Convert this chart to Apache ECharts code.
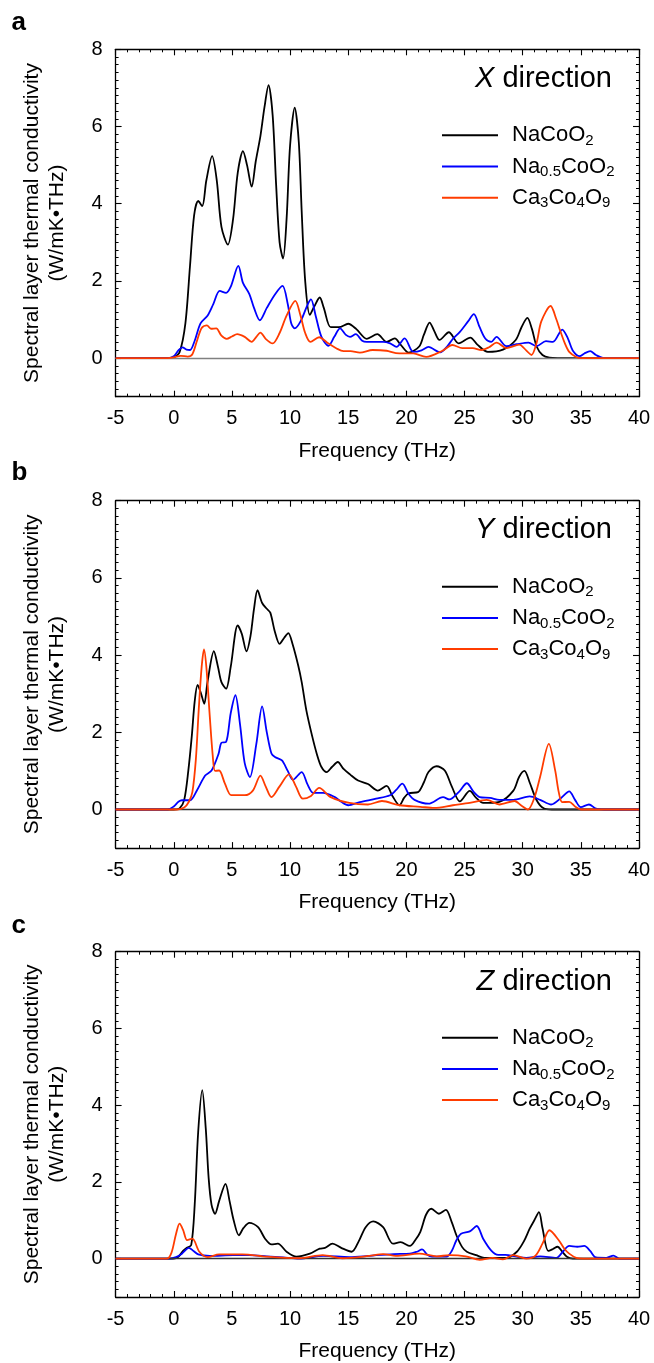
<!DOCTYPE html>
<html>
<head>
<meta charset="utf-8">
<script src="https://cdn.jsdelivr.net/npm/echarts@6/dist/echarts.min.js"></script>
<style>
html,body{margin:0;padding:0;background:#fff;}
#chart{width:654px;height:1363px;}
</style>
</head>
<body>
<div id="chart"></div>
<script>
// ---------- data (frequency THz, spectral conductivity W/mK·THz) ----------
const seriesNames = ['NaCoO2', 'Na0.5CoO2', 'Ca3Co4O9'];
const panelLetters = ['a', 'b', 'c'];
const directions = ['X', 'Y', 'Z'];
const xTicks = { min: -5, max: 40, step: 5 };
const yRange = { min: -1, max: 8 };

const naCoO2_X = [[-5,0],[-0.5,0],[0,0.02],[0.5,0.15],[1.0,0.9],[1.4,2.4],[1.75,3.7],[2.1,4.07],[2.45,3.94],[2.8,4.6],[3.3,5.23],[3.7,4.6],[4.1,3.4],[4.65,2.94],[5.1,3.6],[5.5,4.8],[5.95,5.36],[6.3,5.0],[6.7,4.44],[7.05,5.1],[7.45,5.75],[7.8,6.5],[8.15,7.07],[8.5,6.3],[8.8,4.5],[9.1,3.0],[9.4,2.58],[9.7,3.6],[10.0,5.5],[10.4,6.49],[10.75,5.6],[11.0,3.8],[11.3,2.0],[11.7,1.12],[12.1,1.35],[12.55,1.57],[12.9,1.3],[13.5,0.8],[14.2,0.8],[15.0,0.89],[15.7,0.75],[16.6,0.5],[17.5,0.62],[18.3,0.42],[19.0,0.51],[19.5,0.35],[20.2,0.14],[21.1,0.3],[21.5,0.6],[22.0,0.92],[22.4,0.7],[22.85,0.47],[23.65,0.67],[24.5,0.38],[25.5,0.53],[26.1,0.35],[27.0,0.16],[28.3,0.22],[29.4,0.47],[29.9,0.8],[30.4,1.04],[30.8,0.75],[31.2,0.3],[31.7,0.08],[32.3,0.01],[33,0],[40,0]];
const na05CoO2_X = [[-5,0],[-0.5,0],[0,0.05],[0.4,0.2],[0.75,0.28],[1.1,0.22],[1.4,0.21],[1.8,0.45],[2.3,0.9],[2.9,1.1],[3.4,1.4],[3.95,1.74],[4.5,1.69],[4.9,1.85],[5.55,2.39],[5.95,1.95],[6.5,1.66],[6.9,1.3],[7.4,0.98],[8.0,1.3],[8.7,1.65],[9.35,1.87],[9.8,1.4],[10.1,0.9],[10.4,0.77],[10.9,0.95],[11.5,1.38],[11.8,1.52],[12.2,1.1],[12.7,0.55],[13.3,0.32],[13.8,0.55],[14.3,0.77],[14.8,0.6],[15.15,0.55],[15.65,0.62],[16.2,0.45],[16.6,0.42],[18.0,0.42],[18.6,0.38],[19.15,0.29],[19.85,0.51],[20.6,0.16],[21.3,0.2],[21.9,0.29],[22.9,0.15],[23.5,0.3],[24.0,0.5],[24.6,0.68],[25.3,0.95],[25.8,1.14],[26.3,0.8],[26.8,0.5],[27.3,0.42],[27.75,0.55],[28.6,0.31],[29.5,0.36],[30.5,0.4],[31.2,0.31],[32.0,0.44],[32.6,0.42],[33.4,0.74],[33.9,0.5],[34.3,0.2],[34.9,0.05],[35.3,0.12],[35.8,0.18],[36.3,0.08],[37,0],[40,0]];
const ca3Co4O9_X = [[-5,0],[-0.5,0],[0,0.02],[0.6,0.06],[1.2,0.04],[1.6,0.1],[2.0,0.45],[2.4,0.78],[2.85,0.85],[3.2,0.76],[3.65,0.77],[4.1,0.58],[4.55,0.5],[5.0,0.56],[5.45,0.62],[6.1,0.55],[6.7,0.42],[7.1,0.55],[7.45,0.66],[7.9,0.5],[8.5,0.38],[9.1,0.65],[9.7,1.1],[10.45,1.48],[10.9,1.1],[11.3,0.65],[11.75,0.42],[12.5,0.54],[13.2,0.4],[14.0,0.25],[14.6,0.18],[15.2,0.18],[16.0,0.14],[17.1,0.21],[18.3,0.19],[19.1,0.13],[20.6,0.12],[21.7,0.03],[23.1,0.19],[23.95,0.34],[24.8,0.26],[25.7,0.26],[26.45,0.21],[27.1,0.28],[27.75,0.4],[28.6,0.26],[29.7,0.35],[30.3,0.2],[30.75,0.08],[31.2,0.4],[31.6,0.95],[32.4,1.35],[32.9,1.0],[33.2,0.73],[33.6,0.4],[34.0,0.16],[34.6,0.03],[35,0],[40,0]];

const naCoO2_Y = [[-5,0],[0,0],[0.5,0.03],[0.9,0.25],[1.25,1.0],[1.55,1.9],[1.8,2.8],[2.05,3.23],[2.35,3.0],[2.62,2.74],[2.9,3.3],[3.45,4.1],[3.8,3.7],[4.1,3.3],[4.5,3.13],[4.9,3.7],[5.5,4.77],[5.85,4.55],[6.25,4.1],[6.6,4.5],[6.9,5.2],[7.2,5.68],[7.6,5.35],[8.0,5.2],[8.3,5.1],[8.7,4.6],[9.1,4.29],[9.5,4.45],[9.85,4.57],[10.2,4.3],[10.7,3.73],[11.0,3.3],[11.4,2.57],[11.9,1.9],[12.3,1.44],[12.7,1.1],[13.15,0.97],[13.6,1.1],[14.1,1.23],[14.6,1.05],[15.15,0.91],[15.85,0.75],[16.7,0.66],[17.55,0.49],[18.3,0.61],[18.8,0.35],[19.4,0.11],[19.8,0.3],[20.2,0.42],[21.0,0.45],[21.5,0.7],[21.9,0.97],[22.6,1.12],[23.3,1.01],[23.9,0.6],[24.6,0.21],[25.45,0.48],[26.0,0.3],[26.6,0.17],[28.0,0.2],[29.2,0.49],[29.7,0.85],[30.15,1.0],[30.6,0.7],[31.2,0.24],[31.8,0.03],[32.5,0],[40,0]];
const na05CoO2_Y = [[-5,0],[-0.5,0],[0,0.08],[0.4,0.2],[0.7,0.24],[1.4,0.24],[2.0,0.5],[2.7,0.88],[3.25,1.01],[3.85,1.44],[4.1,1.73],[4.5,1.75],[4.9,2.5],[5.3,2.96],[5.7,2.2],[6.1,1.2],[6.55,0.84],[7.1,1.7],[7.6,2.67],[8.0,2.0],[8.4,1.45],[8.7,1.36],[9.3,1.27],[9.8,1.0],[10.25,0.77],[11.0,0.97],[11.5,0.65],[12.0,0.43],[12.85,0.43],[13.85,0.32],[14.4,0.2],[15.0,0.11],[16.0,0.19],[17.4,0.28],[18.6,0.37],[19.1,0.5],[19.65,0.67],[20.2,0.4],[20.7,0.25],[21.9,0.15],[23.15,0.32],[23.7,0.26],[24.5,0.45],[25.2,0.68],[25.8,0.45],[26.3,0.32],[27.2,0.3],[28.0,0.25],[29.2,0.25],[30.6,0.34],[31.5,0.25],[32.45,0.13],[33.3,0.3],[34.0,0.47],[34.5,0.25],[35.0,0.06],[35.7,0.13],[36.3,0.02],[37,0],[40,0]];
const ca3Co4O9_Y = [[-5,0],[0.3,0],[0.9,0.05],[1.3,0.2],[1.6,0.45],[1.9,1.3],[2.15,2.6],[2.4,3.7],[2.6,4.15],[2.8,3.7],[3.1,2.4],[3.35,1.4],[3.55,1.0],[3.9,1.01],[4.4,0.67],[4.95,0.37],[6.1,0.37],[6.8,0.49],[7.45,0.88],[7.9,0.6],[8.4,0.32],[9.1,0.6],[9.9,0.91],[10.5,0.6],[11.1,0.28],[11.8,0.35],[12.5,0.56],[13.5,0.32],[15.1,0.17],[16.7,0.13],[17.9,0.22],[19.4,0.11],[21.2,0.07],[22.4,0.04],[24.0,0.11],[25.45,0.17],[26.9,0.25],[28.0,0.13],[29.3,0.22],[29.9,0.1],[30.45,0.0],[31.0,0.3],[31.5,0.85],[32.25,1.7],[32.8,1.0],[33.1,0.45],[33.4,0.19],[34.0,0.2],[34.5,0.08],[35,0],[40,0]];

const naCoO2_Z = [[-5,0],[0,0],[0.4,0.05],[0.8,0.2],[1.1,0.28],[1.5,0.35],[1.8,1.4],[2.1,3.3],[2.45,4.39],[2.75,3.4],[3.0,2.1],[3.25,1.4],[3.55,1.17],[3.9,1.5],[4.45,1.95],[4.8,1.5],[5.15,1.0],[5.6,0.61],[6.0,0.8],[6.5,0.93],[7.25,0.82],[7.85,0.52],[8.4,0.37],[8.95,0.39],[9.7,0.18],[10.55,0.05],[11.7,0.13],[12.55,0.26],[13.0,0.28],[13.65,0.39],[14.4,0.28],[15.3,0.18],[15.9,0.45],[16.5,0.82],[17.15,0.97],[18.0,0.82],[18.85,0.39],[19.5,0.43],[20.3,0.33],[20.8,0.5],[21.2,0.7],[21.7,1.15],[22.15,1.3],[22.8,1.17],[23.4,1.27],[23.9,0.95],[24.3,0.61],[24.8,0.3],[25.2,0.18],[26.0,0.09],[26.7,0.02],[28.6,0.02],[29.5,0.18],[30.1,0.45],[30.6,0.78],[31.0,1.0],[31.4,1.21],[31.7,0.8],[32.2,0.2],[32.6,0.25],[33.0,0.31],[33.4,0.18],[33.8,0.05],[34.3,0],[40,0]];
const na05CoO2_Z = [[-5,0],[-0.4,0],[0.2,0.04],[0.7,0.13],[1.3,0.28],[1.7,0.2],[2.1,0.11],[3.1,0.07],[5.1,0.09],[6.5,0.09],[8.0,0.06],[9.4,0.03],[10.8,0.0],[12.85,0.07],[15.1,0.04],[16.7,0.07],[17.4,0.09],[18.9,0.12],[20.3,0.13],[20.9,0.18],[21.35,0.24],[21.8,0.1],[22.2,0.05],[23.45,0.05],[23.9,0.2],[24.3,0.48],[24.7,0.65],[25.45,0.71],[26.05,0.85],[26.6,0.52],[27.3,0.21],[27.9,0.1],[28.5,0.1],[29.5,0.05],[30.3,0.02],[31.5,0.06],[32.9,0.02],[33.45,0.18],[34.0,0.33],[34.7,0.31],[35.3,0.33],[35.8,0.2],[36.3,0.03],[37.2,0.02],[37.8,0.08],[38.3,0],[40,0]];
const ca3Co4O9_Z = [[-5,0],[-0.6,0],[-0.2,0.15],[0.2,0.65],[0.5,0.91],[0.8,0.75],[1.15,0.48],[1.6,0.52],[2.2,0.18],[2.9,0.04],[3.9,0.11],[5.9,0.11],[8.0,0.05],[10.8,0.01],[12.8,0.09],[14.5,0.01],[16.8,0.07],[18.0,0.12],[19.1,0.07],[21.1,0.13],[22.6,0.06],[23.7,0.09],[25.1,0.06],[26.3,-0.03],[27.4,0.02],[28.3,-0.02],[29.2,0.09],[30.3,0.0],[31.1,0.08],[31.7,0.39],[32.3,0.74],[33.1,0.48],[33.6,0.25],[34.0,0.13],[34.6,0.02],[35.2,0],[40,0]];

const panelData = [
  [naCoO2_X, na05CoO2_X, ca3Co4O9_X],
  [naCoO2_Y, na05CoO2_Y, ca3Co4O9_Y],
  [naCoO2_Z, na05CoO2_Z, ca3Co4O9_Z]
];

// ---------- styling / layout ----------
const FONT = '"Liberation Sans", Arial, Helvetica, sans-serif';
const colors = ['#000000', '#0000ff', '#ff3c00'];
const richName = {
  'NaCoO2': '{g|}{n|NaCoO}{s|2}',
  'Na0.5CoO2': '{g|}{n|Na}{s|0.5}{n|CoO}{s|2}',
  'Ca3Co4O9': '{g|}{n|Ca}{s|3}{n|Co}{s|4}{n|O}{s|9}'
};
const gridTops = [49.3, 500.7, 951.7];
const gridLeft = 115.6, gridWidth = 523.4, gridHeight = 347.4;
const letterTops = [5, 454.5, 908];
const dirTops = [59.5, 510.5, 962];

const chart = echarts.init(document.getElementById('chart'), null, { renderer: 'canvas' });

const grid = [], xAxis = [], yAxis = [], series = [], legend = [], title = [];
const axisLine = { show: true, onZero: false, lineStyle: { color: '#000', width: 1.3 } };
const majorTick = { inside: true, length: 6, lineStyle: { color: '#000', width: 1.1 } };

gridTops.forEach((top, p) => {
  grid.push({ left: gridLeft, top: top, width: gridWidth, height: gridHeight, containLabel: false });
});
['bottom', 'top'].forEach((pos) => {
  gridTops.forEach((top, p) => {
    const ax = {
      type: 'value', gridIndex: p, position: pos,
      min: xTicks.min, max: xTicks.max, interval: xTicks.step,
      axisLine: axisLine, axisTick: majorTick,
      minorTick: { show: true, splitNumber: 5, length: 3, lineStyle: { color: '#000', width: 1 } },
      splitLine: { show: false }, minorSplitLine: { show: false },
      axisLabel: { show: false }
    };
    if (pos === 'bottom') {
      ax.axisLabel = { show: true, color: '#000', fontSize: 20, fontFamily: FONT, margin: 12 };
      ax.name = 'Frequency (THz)';
      ax.nameLocation = 'middle';
      ax.nameGap = 44;
      ax.nameTextStyle = { color: '#000', fontSize: 21, fontFamily: FONT };
    }
    xAxis.push(ax);
  });
});
['left', 'right'].forEach((pos) => {
  gridTops.forEach((top, p) => {
    const ax = {
      type: 'value', gridIndex: p, position: pos,
      min: yRange.min, max: yRange.max, splitNumber: 5,
      axisLine: axisLine, axisTick: majorTick,
      minorTick: { show: true, splitNumber: 10, length: 3, lineStyle: { color: '#000', width: 1 } },
      splitLine: { show: false }, minorSplitLine: { show: false },
      axisLabel: { show: false }
    };
    if (pos === 'left') {
      ax.axisLabel = { show: true, color: '#000', fontSize: 20, fontFamily: FONT, margin: 13, showMinLabel: false };
      ax.name = 'Spectral layer thermal conductivity\n(W/mK\u2022THz)';
      ax.nameLocation = 'middle';
      ax.nameGap = 46;
      ax.nameTextStyle = { color: '#000', fontSize: 21, lineHeight: 25, fontFamily: FONT };
    }
    yAxis.push(ax);
  });
});

panelData.forEach((sets, p) => {
  sets.forEach((data, k) => {
    const s = {
      type: 'line', name: seriesNames[k], xAxisIndex: p, yAxisIndex: p,
      data: data, showSymbol: false, smooth: 0.3,
      lineStyle: { color: colors[k], width: 1.8 }, itemStyle: { color: colors[k] },
      z: 3 + k
    };
    if (k === 0) {
      s.markLine = {
        silent: true, symbol: ['none', 'none'], animation: false,
        label: { show: false },
        lineStyle: { color: p === 0 ? '#808080' : '#333', width: 1.4, type: 'solid' },
        data: [{ yAxis: 0 }]
      };
    }
    series.push(s);
  });
  legend.push({
    data: seriesNames, orient: 'vertical', left: 437, top: gridTops[p] + 70,
    itemWidth: 56, itemHeight: 2, itemGap: 7.2, icon: 'rect',
    selectedMode: false,
    formatter: (name) => richName[name],
    textStyle: {
      color: '#000', fontFamily: FONT, fontSize: 22,
      rich: {
        g: { width: 9 },
        n: { fontSize: 22, lineHeight: 26, fontFamily: FONT, color: '#000' },
        s: { fontSize: 15, lineHeight: 8, verticalAlign: 'bottom', fontFamily: FONT, color: '#000' }
      }
    }
  });
  title.push({
    text: panelLetters[p], left: 6.5, top: letterTops[p],
    textStyle: { fontSize: 26, fontWeight: 'bold', color: '#000', fontFamily: FONT }
  });
  title.push({
    text: '{i|' + directions[p] + '} direction', right: 37, top: dirTops[p],
    textStyle: {
      fontSize: 29, color: '#000', fontFamily: FONT, fontWeight: 'normal',
      rich: { i: { fontSize: 29, fontStyle: 'italic', fontFamily: FONT, color: '#000' } }
    }
  });
});

chart.setOption({
  animation: false,
  backgroundColor: '#ffffff',
  title: title, legend: legend, grid: grid,
  xAxis: xAxis, yAxis: yAxis, series: series
});
</script>
</body>
</html>
